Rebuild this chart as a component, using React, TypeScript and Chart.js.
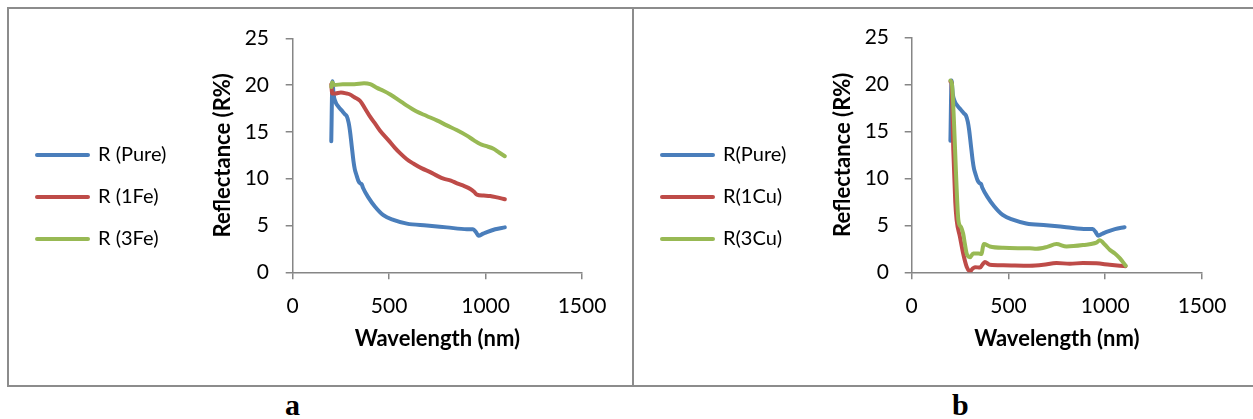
import React, { useEffect, useRef } from "react";
import { Chart, registerables } from "chart.js";

Chart.register(...registerables);

// ---------- data ----------
const pureWl = [200, 206, 212, 222, 237, 254, 270, 280, 290, 297, 306, 315, 322, 329, 340, 350, 358, 365, 392, 427, 470, 522, 592, 695, 799, 903, 935, 950, 963, 985, 1007, 1050, 1100];
const pureR = [14.0, 20.4, 19.0, 18.2, 17.7, 17.3, 16.9, 16.7, 16.0, 15.1, 13.5, 11.9, 11.0, 10.5, 9.8, 9.5, 9.4, 9.0, 8.0, 7.0, 6.1, 5.6, 5.2, 5.0, 4.8, 4.6, 4.6, 4.3, 3.9, 4.1, 4.3, 4.6, 4.8];

const fe1Wl = [200, 205, 220, 250, 280, 297, 320, 350, 375, 402, 430, 454, 497, 530, 558, 590, 627, 670, 713, 750, 782, 820, 852, 890, 921, 940, 955, 990, 1024, 1060, 1100];
const fe1R = [20.1, 19.1, 19.1, 19.2, 19.1, 19.0, 18.7, 18.3, 17.5, 16.6, 15.8, 15.1, 14.1, 13.3, 12.7, 12.1, 11.6, 11.1, 10.7, 10.3, 10.0, 9.8, 9.5, 9.2, 8.9, 8.6, 8.3, 8.2, 8.15, 8.0, 7.8];

const fe3Wl = [200, 205, 215, 260, 320, 370, 402, 437, 470, 506, 550, 592, 640, 695, 750, 799, 850, 903, 940, 972, 1000, 1041, 1070, 1100];
const fe3R = [19.8, 20.3, 20.0, 20.1, 20.1, 20.2, 20.1, 19.7, 19.4, 19.0, 18.4, 17.8, 17.2, 16.7, 16.2, 15.7, 15.2, 14.6, 14.1, 13.7, 13.5, 13.2, 12.8, 12.4];

const cu1Wl = [200, 205, 215, 225, 232, 249, 266, 284, 301, 315, 327, 353, 365, 378, 404, 473, 610, 680, 748, 817, 885, 954, 1023, 1075, 1105];
const cu1R = [20.3, 20.3, 13.0, 7.5, 5.6, 3.8, 2.0, 0.6, 0.1, 0.4, 0.55, 0.5, 0.8, 1.1, 0.8, 0.75, 0.7, 0.8, 1.0, 0.9, 1.0, 0.95, 0.8, 0.7, 0.65];

const cu3Wl = [200, 208, 218, 230, 241, 255, 266, 275, 284, 301, 318, 345, 361, 368, 373, 404, 473, 610, 645, 700, 748, 800, 885, 954, 971, 1000, 1023, 1050, 1075, 1106];
const cu3R = [20.4, 20.0, 16.2, 10.0, 5.6, 4.8, 4.1, 3.0, 2.0, 1.6, 2.0, 2.0, 1.95, 2.7, 3.0, 2.75, 2.6, 2.55, 2.5, 2.7, 3.0, 2.75, 2.9, 3.15, 3.4, 2.9, 2.4, 2.0, 1.5, 0.7];

const labelsA = ["R (Pure)", "R (1Fe)", "R (3Fe)"];
const labelsB = ["R(Pure)", "R(1Cu)", "R(3Cu)"];
const xTitle = "Wavelength (nm)";
const yTitle = "Reflectance (R%)";
const xMax = 1500;
const xStep = 500;
const yMax = 25;
const yStep = 5;

const BLUE = "#4a7ebb";
const RED = "#be4b48";
const GREEN = "#98b954";
const AXIS = "#868686";
const FONT = "Lato, 'Open Sans', sans-serif";
const LEGEND_W = 172;

const pts = (xs: number[], ys: number[]) => xs.map((x, i) => ({ x, y: ys[i] }));

const legendWidthPlugin = {
  id: "legendWidth",
  beforeUpdate(chart: any) {
    const lg = chart.legend;
    if (lg && !lg.__patched) {
      const orig = lg.fit.bind(lg);
      lg.fit = function () {
        orig();
        lg.width = Math.max(lg.width, LEGEND_W);
      };
      lg.__patched = true;
    }
  },
};

type PanelProps = {
  left: number;
  width: number;
  labels: string[];
  series: { x: number[]; y: number[] }[];
  yAxisWidth: number;
  yTitlePad: number;
  yTickPad: number;
};

function Panel({ left, width, labels, series, yAxisWidth, yTitlePad, yTickPad }: PanelProps) {
  const ref = useRef<HTMLCanvasElement | null>(null);
  useEffect(() => {
    if (!ref.current) return;
    const colors = [BLUE, RED, GREEN];
    const chart = new Chart(ref.current, {
      type: "line",
      data: {
        datasets: series.map((s, i) => ({
          label: labels[i],
          data: pts(s.x, s.y),
          borderColor: colors[i],
          backgroundColor: colors[i],
          borderWidth: 4,
          pointRadius: 0,
          pointBorderWidth: 4,
          pointBorderColor: colors[i],
          borderCapStyle: "round" as const,
          borderJoinStyle: "round" as const,
          cubicInterpolationMode: "monotone" as const,
          order: 3 - i,
        })),
      },
      plugins: [legendWidthPlugin],
      options: {
        animation: false,
        responsive: false,
        maintainAspectRatio: false,
        layout: { padding: { left: 6, right: 51, top: 28, bottom: 29 } },
        plugins: {
          tooltip: { enabled: false },
          legend: {
            position: "left",
            labels: {
              usePointStyle: true,
              pointStyle: "line",
              pointStyleWidth: 51,
              padding: 22,
              color: "#000",
              font: { family: FONT, size: 20 },
              sort: (a: any, b: any) => a.datasetIndex - b.datasetIndex,
              generateLabels: (c: any) =>
                Chart.defaults.plugins.legend.labels.generateLabels(c).map((l: any) => ({
                  ...l,
                  lineWidth: 4,
                  lineCap: "round",
                  pointStyle: "line",
                  strokeStyle: colors[l.datasetIndex],
                })),
            },
          },
        },
        scales: {
          x: {
            type: "linear",
            min: 0,
            max: xMax,
            afterFit: (s: any) => {
              s.height = 84.7;
            },
            ticks: {
              stepSize: xStep,
              color: "#000",
              padding: 14,
              font: { family: FONT, size: 21 },
              callback: (v: any) => String(v),
            },
            grid: { drawOnChartArea: false, drawTicks: true, tickLength: 7, color: AXIS, lineWidth: 1.5 },
            border: { color: AXIS, width: 1.5 },
            title: {
              display: true,
              text: xTitle,
              color: "#000",
              font: { family: FONT, size: 22, weight: "bold" },
              padding: { top: 2, bottom: 4.8 },
            },
          },
          y: {
            type: "linear",
            min: 0,
            max: yMax,
            afterFit: (s: any) => {
              s.width = yAxisWidth;
            },
            ticks: {
              stepSize: yStep,
              color: "#000",
              padding: yTickPad,
              font: { family: FONT, size: 21 },
              callback: (v: any) => String(v),
            },
            grid: { drawOnChartArea: false, drawTicks: true, tickLength: 7, color: AXIS, lineWidth: 1.5 },
            border: { color: AXIS, width: 1.5 },
            title: {
              display: true,
              text: yTitle,
              color: "#000",
              font: { family: FONT, size: 22, weight: "bold" },
              padding: { top: yTitlePad, bottom: 2 },
            },
          },
        },
      },
    } as any);
    return () => chart.destroy();
  }, []);
  return (
    <canvas
      ref={ref}
      width={width}
      height={377}
      style={{ position: "absolute", left, top: 9, width, height: 377 }}
    />
  );
}

export default function App() {
  const line = (l: number, t: number, w: number, h: number) => (
    <div style={{ position: "absolute", left: l, top: t, width: w, height: h, background: "#8c8c8c" }} />
  );
  return (
    <div style={{ position: "absolute", left: 0, top: 0, width: 1253, height: 419, background: "#fff", overflow: "hidden" }}>
      {line(8, 7, 1245, 2)}
      {line(7, 7, 2, 380)}
      {line(632, 7, 1.5, 380)}
      {line(7, 385, 1246, 2)}
      <Panel
        left={9}
        width={624}
        labels={labelsA}
        series={[
          { x: pureWl, y: pureR },
          { x: fe1Wl, y: fe1R },
          { x: fe3Wl, y: fe3R },
        ]}
        yAxisWidth={283.7 - 6 - LEGEND_W}
        yTitlePad={22.8}
        yTickPad={16.7}
      />
      <Panel
        left={634}
        width={619}
        labels={labelsB}
        series={[
          { x: pureWl, y: pureR },
          { x: cu1Wl, y: cu1R },
          { x: cu3Wl, y: cu3R },
        ]}
        yAxisWidth={277.7 - 6 - LEGEND_W}
        yTitlePad={17.8}
        yTickPad={15.7}
      />
      <div style={{ position: "absolute", left: 285, top: 390, font: "bold 30px 'Liberation Serif', serif", lineHeight: "30px" }}>a</div>
      <div style={{ position: "absolute", left: 952, top: 390, font: "bold 30px 'Liberation Serif', serif", lineHeight: "30px" }}>b</div>
    </div>
  );
}
